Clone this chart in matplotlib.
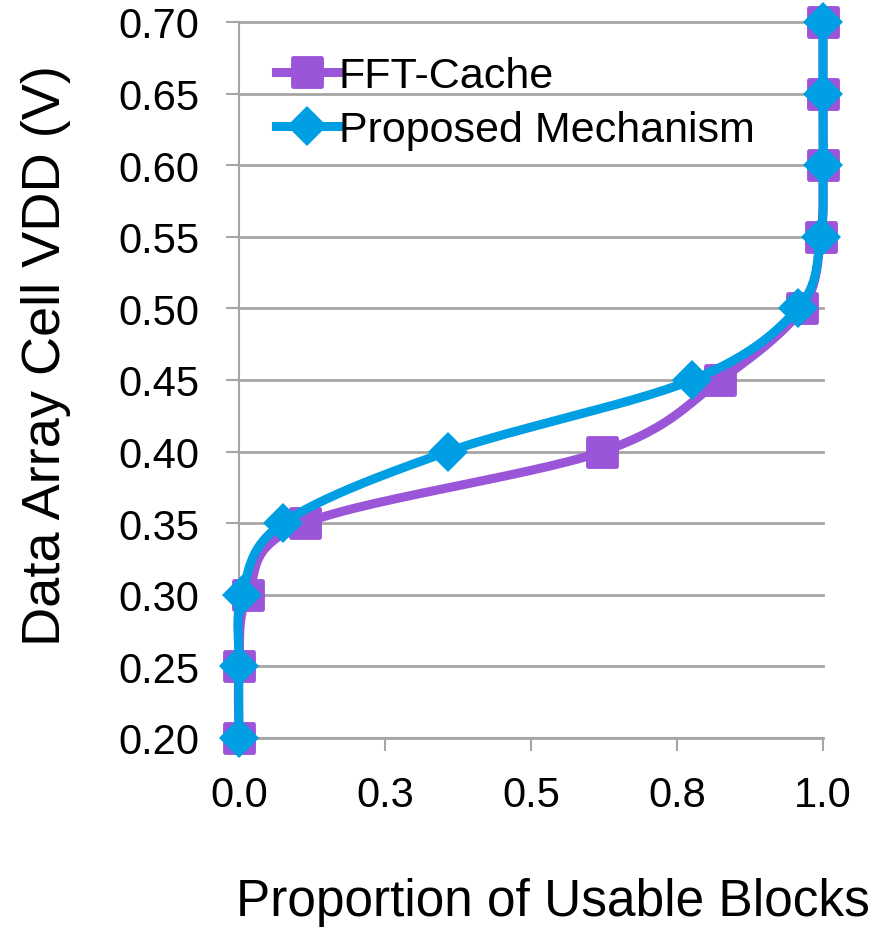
import matplotlib
import matplotlib.pyplot as plt
import numpy as np
from matplotlib.markers import MarkerStyle

matplotlib.use("Agg")

FFT_COLOR = "#9B55D8"
PROPOSED_COLOR = "#009FE3"
GRID_COLOR = "#A6A6A6"

vdd = [0.20, 0.25, 0.30, 0.35, 0.40, 0.45, 0.50, 0.55, 0.60, 0.65, 0.70]
fft_cache = [0.0, 0.0, 0.015, 0.113, 0.622, 0.824, 0.964, 0.996, 1.0, 1.0, 1.0]
proposed = [0.0, 0.0, 0.005, 0.075, 0.358, 0.776, 0.957, 0.996, 1.0, 1.0, 1.0]

x_ticks = [0.0, 0.25, 0.5, 0.75, 1.0]
x_tick_labels = ["0.0", "0.3", "0.5", "0.8", "1.0"]
y_ticks = [0.20, 0.25, 0.30, 0.35, 0.40, 0.45, 0.50, 0.55, 0.60, 0.65, 0.70]

plt.rcParams["font.family"] = ["Liberation Sans", "DejaVu Sans"]


def smooth_curve(xs, ys, sx=584.0, sy=1432.0, steps=30):
    # Excel-like smoothed line: cubic Bezier through the points,
    # control points from neighbours (Catmull-Rom, 1/6 chord)
    p = np.column_stack([np.asarray(xs) * sx, np.asarray(ys) * sy])
    p_ext = np.vstack([p[0], p, p[-1]])
    out = []
    for i in range(len(p) - 1):
        p0, p1, p2, p3 = p_ext[i], p_ext[i + 1], p_ext[i + 2], p_ext[i + 3]
        c1 = p1 + (p2 - p0) / 6.0
        c2 = p2 - (p3 - p1) / 6.0
        t = np.linspace(0, 1, steps)[:, None]
        seg = ((1 - t) ** 3) * p1 + 3 * ((1 - t) ** 2) * t * c1 + 3 * (1 - t) * t ** 2 * c2 + t ** 3 * p2
        out.append(seg if i == 0 else seg[1:])
    out = np.vstack(out)
    return out[:, 0] / sx, out[:, 1] / sy


square = MarkerStyle("s", joinstyle="round")
sq_style = dict(marker=square, markersize=20, markeredgewidth=3.5,
                color=FFT_COLOR, markeredgecolor=FFT_COLOR)
dia_style = dict(marker="D", markersize=20, markeredgewidth=0, color=PROPOSED_COLOR)

fig = plt.figure(figsize=(8.89, 9.29), dpi=100)
ax = fig.add_axes([239 / 889, 1 - 739 / 929, 584 / 889, 716 / 929])

for y in y_ticks:
    ax.axhline(y, color=GRID_COLOR, linewidth=2, zorder=1)

fx, fy = smooth_curve(fft_cache, vdd)
ax.plot(fx, fy, color=FFT_COLOR, linewidth=6.5, solid_capstyle="round", zorder=2)
ax.plot(fft_cache, vdd, linestyle="none", zorder=3, **sq_style)

px, py = smooth_curve(proposed, vdd)
ax.plot(px, py, color=PROPOSED_COLOR, linewidth=6.5, solid_capstyle="round", zorder=4)
ax.plot(proposed, vdd, linestyle="none", zorder=5, **dia_style)

# legend proxies
ax.plot([], [], linewidth=6.5, label="FFT-Cache", **sq_style)
ax.plot([], [], linewidth=6.5, label="Proposed Mechanism", **dia_style)
ax.legend(loc="upper left", bbox_to_anchor=(0.012, 0.995), frameon=False, fontsize=31,
          handlelength=1.45, handletextpad=0.0, labelspacing=0.33, borderpad=0.2)

ax.set_xlim(0, 1.0)
ax.set_ylim(0.20, 0.70)
ax.set_xticks(x_ticks)
ax.set_xticklabels(x_tick_labels)
ax.set_yticks(y_ticks)
ax.set_yticklabels([f"{v:.2f}" for v in y_ticks])
ax.tick_params(axis="y", labelsize=30, length=9.5, width=1.5, color=GRID_COLOR, pad=19)
ax.tick_params(axis="x", labelsize=30, length=9.5, width=1.5, color=GRID_COLOR, pad=17)

for side in ["top", "right"]:
    ax.spines[side].set_visible(False)
for side in ["left", "bottom"]:
    ax.spines[side].set_color(GRID_COLOR)
    ax.spines[side].set_linewidth(1.5)
for line in ax.lines:
    line.set_clip_on(False)

fig.text(870 / 889, 1 - 916 / 929, "Proportion of Usable Blocks", fontsize=37,
         ha="right", va="baseline")
fig.text(46 / 889, 1 - 356 / 929, "Data Array Cell VDD (V)", fontsize=39,
         rotation=90, ha="center", va="center")

fig.savefig("out.png", dpi=100)
